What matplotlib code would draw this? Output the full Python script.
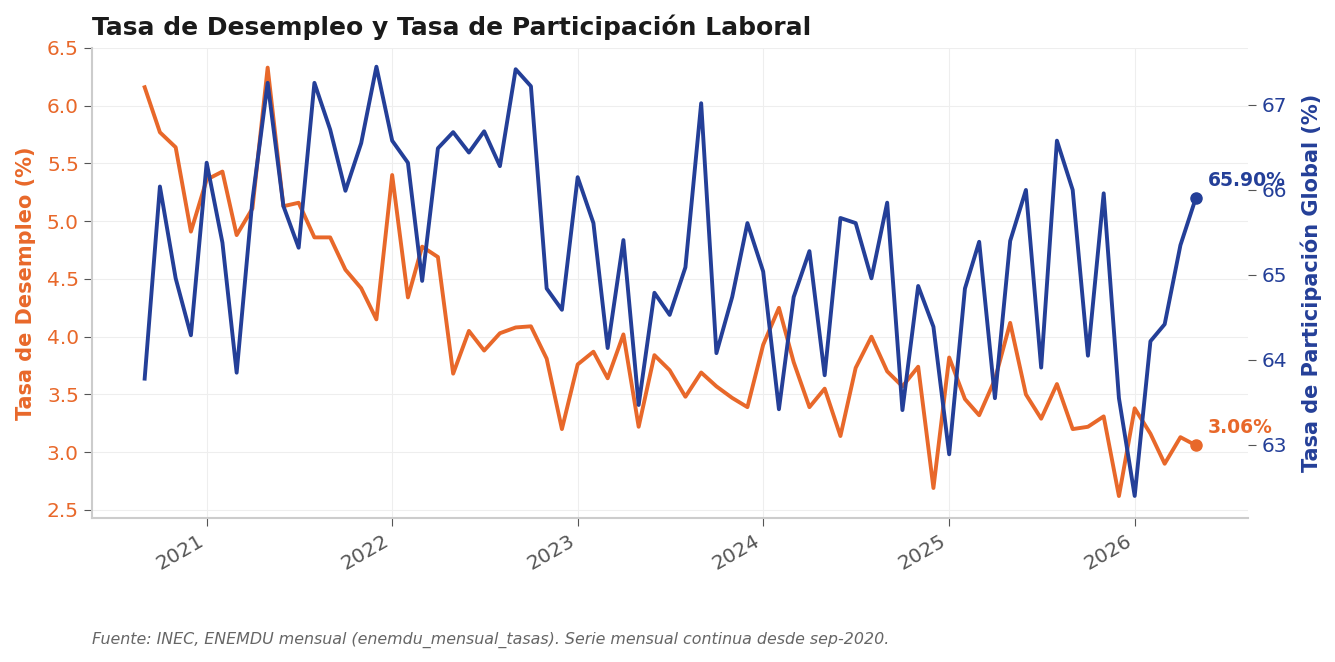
import numpy as np
import pandas as pd
import matplotlib
matplotlib.use('Agg')
import matplotlib.pyplot as plt
import matplotlib.dates as mdates

# monthly series, sep-2020 .. may-2026
fechas = pd.date_range('2020-09-01', periods=69, freq='MS')

desempleo = [
    6.16, 5.77, 5.64, 4.91,
    5.36, 5.43, 4.88, 5.11, 6.33, 5.13, 5.16, 4.86, 4.86, 4.58, 4.42, 4.15,
    5.40, 4.34, 4.78, 4.69, 3.68, 4.05, 3.88, 4.03, 4.08, 4.09, 3.81, 3.20,
    3.76, 3.87, 3.64, 4.02, 3.22, 3.84, 3.71, 3.48, 3.69, 3.57, 3.47, 3.39,
    3.93, 4.25, 3.78, 3.39, 3.55, 3.14, 3.73, 4.00, 3.70, 3.57, 3.74, 2.69,
    3.82, 3.46, 3.32, 3.63, 4.12, 3.50, 3.29, 3.59, 3.20, 3.22, 3.31, 2.62,
    3.38, 3.16, 2.90, 3.13, 3.06,
]

participacion = [
    63.78, 66.04, 64.96, 64.29,
    66.32, 65.38, 63.85, 65.88, 67.26, 65.81, 65.32, 67.26, 66.71, 65.99, 66.55, 67.45,
    66.58, 66.32, 64.93, 66.49, 66.68, 66.44, 66.69, 66.28, 67.42, 67.22, 64.84, 64.59,
    66.15, 65.61, 64.14, 65.41, 63.47, 64.79, 64.53, 65.09, 67.02, 64.08, 64.74, 65.61,
    65.04, 63.42, 64.74, 65.28, 63.82, 65.67, 65.61, 64.96, 65.85, 63.41, 64.87, 64.39,
    62.89, 64.84, 65.39, 63.55, 65.40, 66.00, 63.91, 66.58, 66.00, 64.05, 65.96, 63.55,
    62.40, 64.22, 64.42, 65.35, 65.90,
]

c_des = '#E8682A'
c_par = '#243F98'
c_tick = '#555555'

fig = plt.figure(figsize=(13.35, 6.62), dpi=100)
ax1 = fig.add_axes([0.069, 0.2175, 0.866, 0.71])
ax2 = ax1.twinx()

ax1.plot(fechas, desempleo, color=c_des, lw=2.8, zorder=3)
ax2.plot(fechas, participacion, color=c_par, lw=2.8, zorder=3)

# last-value markers and labels
ax1.plot(fechas[-1], desempleo[-1], 'o', color=c_des, ms=8, zorder=4)
ax2.plot(fechas[-1], participacion[-1], 'o', color=c_par, ms=8, zorder=4)
ax1.annotate(f'{desempleo[-1]:.2f}%', (fechas[-1], desempleo[-1]),
             xytext=(9, 13), textcoords='offset points', va='center',
             color=c_des, fontsize=13.5, fontweight='bold')
ax2.annotate(f'{participacion[-1]:.2f}%', (fechas[-1], participacion[-1]),
             xytext=(9, 13), textcoords='offset points', va='center',
             color=c_par, fontsize=13.5, fontweight='bold')

ax1.set_ylim(2.43, 6.5)
ax2.set_ylim(62.14, 67.67)
ax1.set_yticks(np.arange(2.5, 6.51, 0.5))
ax2.set_yticks([63, 64, 65, 66, 67])

ax1.xaxis.set_major_locator(mdates.YearLocator())
ax1.xaxis.set_major_formatter(mdates.DateFormatter('%Y'))
for lab in ax1.get_xticklabels():
    lab.set_rotation(30)
    lab.set_ha('right')

ax1.grid(True, color='#eeeeee', lw=0.8, zorder=0)
ax1.set_axisbelow(True)

for s in ['top', 'right']:
    ax1.spines[s].set_visible(False)
for s in ['top', 'right', 'left', 'bottom']:
    ax2.spines[s].set_visible(False)
for s in ['left', 'bottom']:
    ax1.spines[s].set_color('#cccccc')
    ax1.spines[s].set_linewidth(1.5)

ax1.tick_params(axis='y', colors=c_tick, labelcolor=c_des, labelsize=14.5, length=6)
ax2.tick_params(axis='y', colors=c_tick, labelcolor=c_par, labelsize=14.5, length=6)
ax1.tick_params(axis='x', colors=c_tick, labelcolor=c_tick, labelsize=14.5, length=6)

ax1.set_ylabel('Tasa de Desempleo (%)', color=c_des, fontsize=15,
               fontweight='bold', labelpad=8)
ax2.set_ylabel('Tasa de Participación Global (%)', color=c_par, fontsize=15,
               fontweight='bold', labelpad=10)

ax1.set_title('Tasa de Desempleo y Tasa de Participación Laboral', loc='left',
              fontsize=18, fontweight='bold', color='#1a1a1a', pad=9)

fig.text(0.069, 0.027,
         'Fuente: INEC, ENEMDU mensual (enemdu_mensual_tasas). '
         'Serie mensual continua desde sep-2020.',
         fontsize=11.4, style='italic', color='#666666')

plt.savefig('out.png', dpi=100)
